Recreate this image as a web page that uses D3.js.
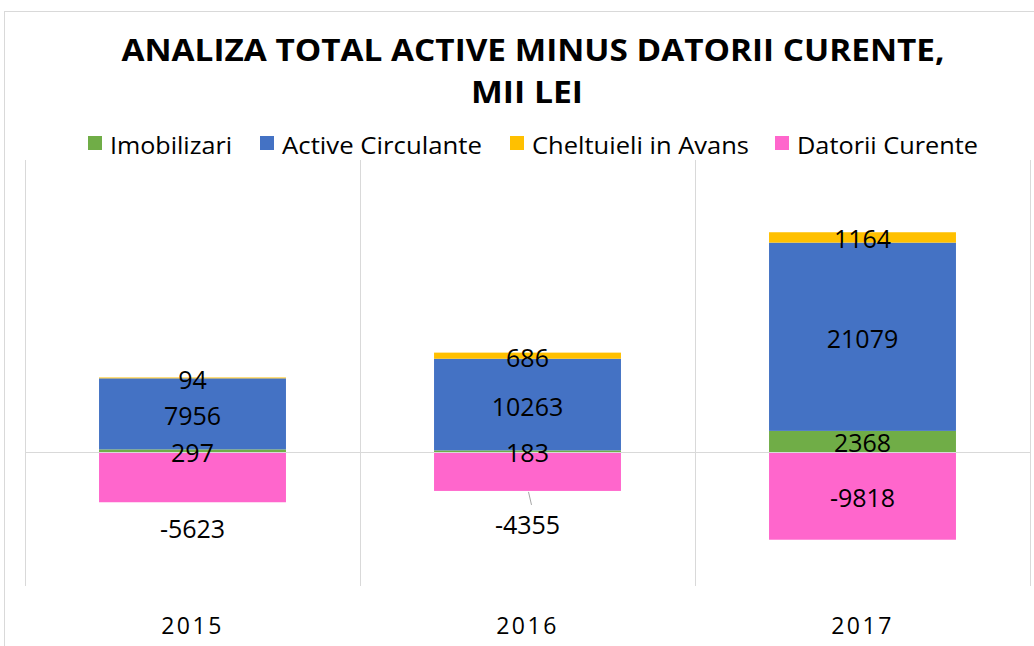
<!DOCTYPE html>
<html>
<head>
<meta charset="utf-8">
<script src="https://cdn.jsdelivr.net/npm/d3@7"></script>
<style>
  body { margin: 0; background: #fff; }
  text { font-family: 'Open Sans', sans-serif; }
</style>
</head>
<body>
<div id="vis"></div>
<script>
var width = 1034,
    height = 646;

// data
var years = ["2015", "2016", "2017"];
var imobilizari = [297, 183, 2368];
var activeCirculante = [7956, 10263, 21079];
var cheltuieli = [94, 686, 1164];
var datorii = [-5623, -4355, -9818];

var seriesNames = ["Imobilizari", "Active Circulante", "Cheltuieli in Avans", "Datorii Curente"];
var seriesColors = ["#70AD47", "#4472C4", "#FFC000", "#FF66CC"];

var rows = years.map(function(y, i) {
  return {
    year: y,
    "Imobilizari": imobilizari[i],
    "Active Circulante": activeCirculante[i],
    "Cheltuieli in Avans": cheltuieli[i],
    "Datorii Curente": datorii[i]
  };
});

var svg = d3.select("#vis").append("svg")
    .attr("width", width)
    .attr("height", height);

// chart border
svg.append("rect")
  .attr("x", 4.5).attr("y", 11.5)
  .attr("width", width + 10).attr("height", height)
  .attr("fill", "none")
  .attr("stroke", "#d9d9d9");

var x = d3.scaleBand()
    .domain(years)
    .range([25, 1030])
    .paddingInner(0.442)
    .paddingOuter(0.221);

var y = d3.scaleLinear()
    .domain([-15000, 32700])
    .range([586, 160]);

var color = d3.scaleOrdinal().domain(seriesNames).range(seriesColors);

// gridlines (category separators)
var bounds = years.map(function(d) { return x(d) - x.step() * x.paddingInner() / 2; });
bounds.push(x.range()[1]);
svg.selectAll("line.vgrid")
  .data(bounds)
  .enter().append("line")
  .attr("class", "vgrid")
  .attr("x1", function(d) { return Math.round(d) + 0.5; })
  .attr("x2", function(d) { return Math.round(d) + 0.5; })
  .attr("y1", y.range()[1])
  .attr("y2", y.range()[0])
  .attr("stroke", "#d9d9d9")
  .attr("stroke-width", 1);

var stack = d3.stack()
    .keys(seriesNames)
    .offset(d3.stackOffsetDiverging);
var series = stack(rows);

var groups = svg.selectAll("g.series")
  .data(series)
  .enter().append("g")
  .attr("class", "series")
  .attr("fill", function(d) { return color(d.key); });

groups.selectAll("rect")
  .data(function(d) { return d; })
  .enter().append("rect")
  .attr("x", function(d) { return x(d.data.year); })
  .attr("width", x.bandwidth())
  .attr("y", function(d) { return y(Math.max(d[0], d[1])); })
  .attr("height", function(d) { return Math.abs(y(d[0]) - y(d[1])); });

// zero line
svg.append("line")
  .attr("x1", x.range()[0]).attr("x2", x.range()[1])
  .attr("y1", Math.round(y(0)) + 0.5).attr("y2", Math.round(y(0)) + 0.5)
  .attr("stroke", "#d9d9d9");

// data labels
var labels = [];
series.forEach(function(s) {
  s.forEach(function(d) {
    var v = d.data[s.key];
    var cy = y((d[0] + d[1]) / 2);
    var moved = false;
    // negative labels moved below small bars (2015, 2016)
    if (s.key === "Datorii Curente" && d.data.year !== "2017") {
      moved = true;
    }
    labels.push({ key: s.key, year: d.data.year, v: v, cy: cy, moved: moved, bottom: y(d[0]) });
  });
});

labels.forEach(function(l) {
  var ly = l.moved ? l.bottom + (l.year === "2015" ? 26 : 33) : l.cy + 1;
  if (l.moved && l.year === "2016") {
    svg.append("line")
      .attr("x1", x(l.year) + x.bandwidth() / 2 + 1)
      .attr("y1", l.bottom + 1)
      .attr("x2", x(l.year) + x.bandwidth() / 2 + 4)
      .attr("y2", l.bottom + 14)
      .attr("stroke", "#a6a6a6")
      .attr("stroke-width", 1);
  }
  svg.append("text")
    .attr("x", x(l.year) + x.bandwidth() / 2)
    .attr("y", ly)
    .attr("text-anchor", "middle")
    .attr("dominant-baseline", "central")
    .style("font-size", "25px")
    .style("fill", "#000")
    .text(l.v);
});

// x axis labels
svg.selectAll("text.year")
  .data(years)
  .enter().append("text")
  .attr("class", "year")
  .attr("x", function(d) { return x(d) + x.bandwidth() / 2; })
  .attr("y", 634)
  .attr("text-anchor", "middle")
  .style("font-size", "23px")
  .style("letter-spacing", "2.5px")
  .style("fill", "#000")
  .text(function(d) { return d; });

// title
svg.append("text")
  .attr("x", 533).attr("y", 61)
  .attr("text-anchor", "middle")
  .attr("textLength", 823)
  .attr("lengthAdjust", "spacingAndGlyphs")
  .style("font-size", "31px")
  .style("font-weight", "bold")
  .style("fill", "#000")
  .text("ANALIZA TOTAL ACTIVE MINUS DATORII CURENTE,");

svg.append("text")
  .attr("x", 527).attr("y", 103)
  .attr("text-anchor", "middle")
  .attr("textLength", 112)
  .attr("lengthAdjust", "spacingAndGlyphs")
  .style("font-size", "31px")
  .style("font-weight", "bold")
  .style("fill", "#000")
  .text("MII LEI");

// legend
var legendX = [88, 260, 510, 775];
var legendW = [122, 200, 217, 181];
var legend = svg.selectAll("g.legend")
  .data(seriesNames)
  .enter().append("g")
  .attr("class", "legend")
  .attr("transform", function(d, i) { return "translate(" + legendX[i] + ",136)"; });

legend.append("rect")
  .attr("width", 14).attr("height", 14)
  .attr("fill", function(d) { return color(d); });

legend.append("text")
  .attr("x", 22).attr("y", 8)
  .attr("dominant-baseline", "central")
  .attr("textLength", function(d, i) { return legendW[i]; })
  .attr("lengthAdjust", "spacingAndGlyphs")
  .style("font-size", "24px")
  .style("fill", "#000")
  .text(function(d) { return d; });
</script>
</body>
</html>
